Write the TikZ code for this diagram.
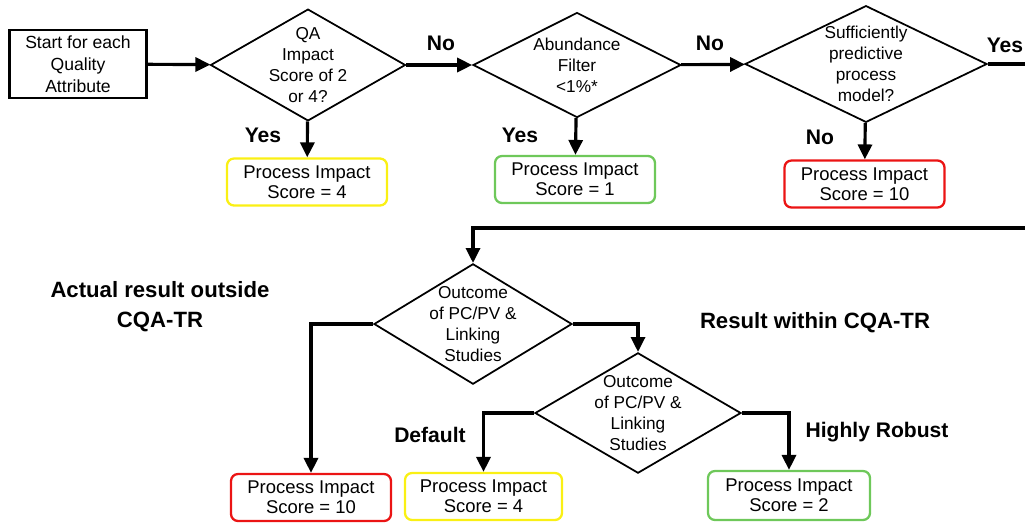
\documentclass[tikz,border=0pt]{standalone}
\usepackage{fontspec}
\setmainfont{Liberation Sans}
\usepackage{tikz}
\usetikzlibrary{shapes.geometric, arrows.meta}
\definecolor{score_red}{RGB}{235, 20, 20}
\definecolor{score_yellow}{RGB}{250, 240, 20}
\definecolor{score_green}{RGB}{110, 200, 90}

\begin{document}
\begin{tikzpicture}[
  decision/.style={diamond, draw, line width=1pt, inner sep=-6pt, align=center,
    font=\fontsize{9.8}{12}\selectfont},
  startbox/.style={rectangle, draw, line width=1.2pt, align=center,
    minimum width=2.74cm, minimum height=1.32cm, font=\fontsize{10}{12.5}\selectfont},
  score/.style={rectangle, rounded corners=4pt, draw=#1, line width=1.3pt, align=center,
    minimum width=3.2cm, minimum height=0.94cm, font=\fontsize{10.5}{11.5}\selectfont},
  flow/.style={line width=1.8pt, -{Triangle[length=8.5pt, width=8pt]}},
  answer/.style={font=\fontsize{12}{14}\selectfont\bfseries}
]
\useasboundingbox (0,0) rectangle (20.5,-10.44);

% top row
\node[startbox] (start) at (1.56,-1.28) {Start for each\\Quality\\Attribute};
\node[decision, minimum width=3.9cm, minimum height=2.04cm] (qa) at (6.16,-1.30) {QA\\Impact\\Score of 2\\or 4?};
\node[decision, minimum width=4.16cm, minimum height=2.1cm] (abund) at (11.54,-1.30) {Abundance\\Filter\\<1\%*};
\node[decision, minimum width=4.84cm, minimum height=2.26cm] (model) at (17.32,-1.28) {Sufficiently\\predictive\\process\\model?};

\node[score=score_yellow] (pis4a) at (6.14,-3.64) {Process Impact\\Score = 4};
\node[score=score_green] (pis1) at (11.5,-3.59) {Process Impact\\Score = 1};
\node[score=score_red] (pis10a) at (17.29,-3.68) {Process Impact\\Score = 10};

\draw[flow] (start) -- (qa);
\draw[flow] (qa) -- (abund);
\draw[flow] (abund) -- (model);
\draw[flow] (qa) -- (pis4a);
\draw[flow] (abund) -- (pis1);
\draw[flow] (model) -- (pis10a);

\node[answer] (no1) at (8.82,-0.86) {No};
\node[answer] (no2) at (14.2,-0.86) {No};
\node[answer] (yes3) at (20.1,-0.9) {Yes};
\node[answer] (yes1) at (5.26,-2.7) {Yes};
\node[answer] (yes2) at (10.4,-2.7) {Yes};
\node[answer] (no3) at (16.4,-2.74) {No};

% bottom part
\node[decision, minimum width=3.96cm, minimum height=2.34cm] (outc1) at (9.46,-6.48) {Outcome\\of PC/PV \&\\Linking\\Studies};
\node[decision, minimum width=4.12cm, minimum height=2.06cm] (outc2) at (12.76,-8.26) {Outcome\\of PC/PV \&\\Linking\\Studies};

\node[score=score_red] (pis10b) at (6.22,-9.95) {Process Impact\\Score = 10};
\node[score=score_yellow, minimum width=3.14cm] (pis4b) at (9.67,-9.93) {Process Impact\\Score = 4};
\node[score=score_green, minimum width=3.24cm, minimum height=0.98cm] (pis2) at (15.78,-9.91) {Process Impact\\Score = 2};

\coordinate (turn) at (21,-4.56);
\draw[line width=1.8pt] (model.east) -| (turn);
\draw[flow] (turn) -| (outc1.north);
\draw[flow] (outc1.west) -| (pis10b.north);
\draw[flow] (outc1.east) -| (outc2.north);
\draw[flow] (outc2.west) -| (pis4b.north);
\draw[flow] (outc2.east) -| (pis2.north);

\node[answer, align=center, font=\fontsize{12.6}{17}\selectfont\bfseries] (outside) at (3.2,-6.14) {Actual result outside\\CQA-TR};
\node[answer, font=\fontsize{12.6}{15}\selectfont\bfseries] (within) at (16.3,-6.46) {Result within CQA-TR};
\node[answer] (default) at (8.6,-8.7) {Default};
\node[answer] (robust) at (17.54,-8.64) {Highly Robust};

\end{tikzpicture}
\end{document}
